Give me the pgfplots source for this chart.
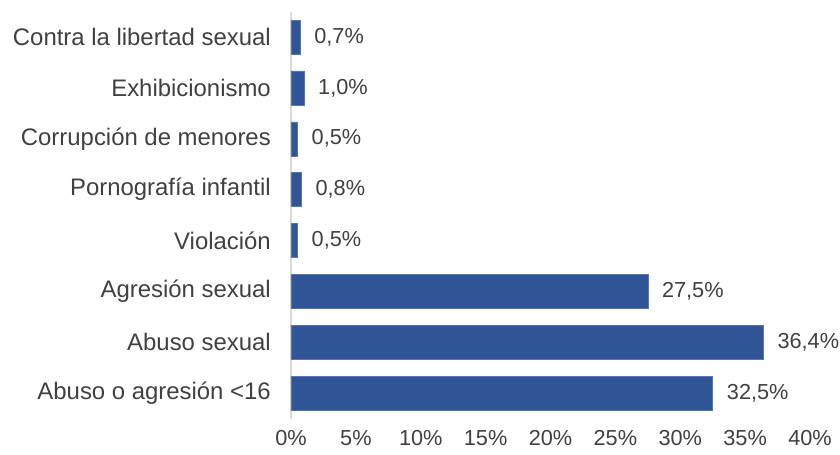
\documentclass[border=0pt]{standalone}
\usepackage{pgfplots}
\pgfplotsset{compat=1.18}
\usepackage{fontspec}
\setmainfont{Liberation Sans}
\definecolor{barblue}{HTML}{2F5597}
\definecolor{txt}{HTML}{404040}
\definecolor{axgray}{HTML}{D9D9D9}
\begin{document}
\begin{tikzpicture}
\path[use as bounding box] (-291bp,-36.4bp) rectangle (549bp,418.6bp);
\begin{axis}[
 at={(0,0)},anchor=south west,
 scale only axis,
 width=519bp,height=407bp,
 xmin=0,xmax=40,ymin=-0.5,ymax=7.5,
 xbar,bar width=34bp,
 axis lines*=left,
 x axis line style={draw=none},
 y axis line style={draw=axgray,line width=1.5bp},
 xtick={0,5,10,15,20,25,30,35,40},
 xticklabels={0\%,5\%,10\%,15\%,20\%,25\%,30\%,35\%,40\%},
 ytick={0,1,2,3,4,5,6,7},
 yticklabels={Abuso o agresión <16,Abuso sexual,Agresión sexual,Violación,Pornografía infantil,Corrupción de menores,Exhibicionismo,Contra la libertad sexual},
 major tick length=0pt,
 tick style={draw=none},
 xticklabel style={font=\fontsize{21.8}{26}\selectfont,text=txt,inner sep=0pt,yshift=-12bp},
 yticklabel style={font=\fontsize{24}{28}\selectfont,text=txt,inner sep=0pt,xshift=-20bp},
 point meta=explicit symbolic,
 nodes near coords,
 every node near coord/.append style={font=\fontsize{21.8}{26}\selectfont,text=txt,anchor=west,inner sep=0pt,xshift=14bp},
]
\addplot[fill=barblue,draw=barblue!80!white,line width=0.5bp] coordinates {
 (32.5,0) [32,5\%]
 (36.4,1) [36,4\%]
 (27.5,2) [27,5\%]
 (0.5,3) [0,5\%]
 (0.8,4) [0,8\%]
 (0.5,5) [0,5\%]
 (1.0,6) [1,0\%]
 (0.7,7) [0,7\%]
};
\end{axis}
\end{tikzpicture}
\end{document}
